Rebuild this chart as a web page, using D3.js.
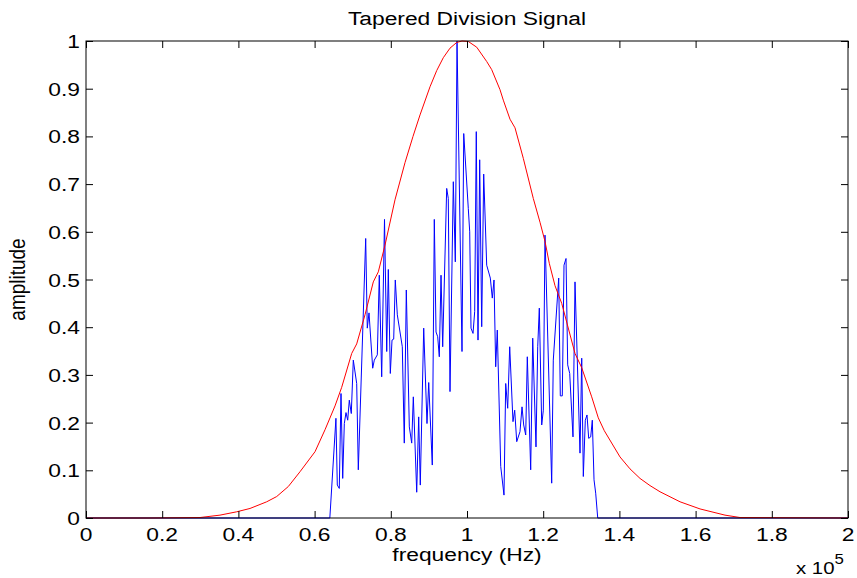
<!DOCTYPE html>
<html>
<head>
<meta charset="utf-8">
<script src="https://cdn.jsdelivr.net/npm/d3@7"></script>
<style>
  body { margin: 0; background: #fff; }
  text { font-family: "Liberation Sans", Arial, sans-serif; fill: #000; }
</style>
</head>
<body>
<svg id="chart" width="857" height="578"></svg>
<script>
// blue: division signal (frequency in Hz, amplitude)
const sigFreq = [0, 64000, 65600, 65960, 66480, 66930, 67380, 67800, 68240, 68690, 69110, 69630,
  70160, 71050, 71470, 73410, 73830, 74280, 75250, 75670, 76460, 76980, 77610, 78350, 78930,
  79350, 79870, 80320, 80760, 81180, 81710, 83020, 83540, 84070, 84860, 85490, 85910, 86800,
  87320, 87740, 88640, 89500, 89950, 90890, 91420, 91870, 92310, 92730, 93180, 93620, 94670,
  95090, 95540, 96410, 96930, 97380, 98690, 99140, 100340, 100710, 101050, 101580, 102020,
  102440, 102890, 103330, 103860, 104380, 105170, 106120, 106640, 107090, 107530, 107950,
  108850, 109710, 110160, 110680, 111210, 112070, 112520, 113050, 113910, 114440, 114880,
  115410, 115830, 116720, 117250, 118110, 118560, 118980, 119610, 120030, 120470, 122230,
  122650, 124070, 124490, 125010, 125460, 125990, 126430, 126960, 127820, 128350, 129660,
  130110, 130530, 131050, 131500, 131940, 132470, 132890, 133340, 133780, 134310, 200000];
const sigAmp = [0, 0, 0.209, 0.069, 0.062, 0.261, 0.083, 0.198, 0.221, 0.205, 0.247, 0.219,
  0.331, 0.282, 0.101, 0.586, 0.398, 0.43, 0.314, 0.331, 0.342, 0.509, 0.296, 0.626, 0.349,
  0.521, 0.303, 0.373, 0.375, 0.499, 0.426, 0.359, 0.157, 0.478, 0.191, 0.157, 0.254, 0.054,
  0.212, 0.069, 0.398, 0.198, 0.284, 0.111, 0.626, 0.39, 0.38, 0.338, 0.509, 0.359, 0.691,
  0.67, 0.265, 0.705, 0.537, 1.0, 0.349, 0.806, 0.649, 0.6, 0.398, 0.387, 0.433,
  0.81, 0.373, 0.751, 0.401, 0.721, 0.53, 0.503, 0.461, 0.499, 0.317, 0.394,
  0.108, 0.048, 0.282, 0.23, 0.359, 0.202, 0.226, 0.16, 0.181, 0.233, 0.195,
  0.174, 0.338, 0.101, 0.377, 0.149, 0.359, 0.44, 0.195, 0.226, 0.593, 0.073,
  0.331, 0.503, 0.256, 0.256, 0.53, 0.544, 0.321, 0.303, 0.17, 0.495, 0.136,
  0.335, 0.087, 0.205, 0.216, 0.167, 0.17, 0.205, 0.08, 0.052, 0, 0];

// red: taper window
const taperFreq = [0, 16800, 29920, 35170, 39550, 43050, 47430, 50050, 53100, 56170, 60110,
  62730, 65360, 67110, 69740, 71050, 73230, 75410, 76720, 78480, 81100, 83730, 85830, 87670,
  90290, 92050, 93780, 95540, 97300, 98690, 100340, 102550, 105170, 106480, 108660, 109530,
  111290, 112600, 114780, 117400, 119160, 120470, 121600, 123100, 124860, 128350, 130110,
  132730, 134460, 136040, 140160, 142780, 145410, 148030, 150660, 155910, 161160, 167720,
  171660, 200000];
const taperAmp = [0, 0, 0.001, 0.006, 0.013, 0.02, 0.034, 0.045, 0.066, 0.097, 0.139,
  0.185, 0.235, 0.274, 0.345, 0.365, 0.426, 0.495, 0.516, 0.572, 0.667, 0.745, 0.8, 0.845,
  0.904, 0.938, 0.965, 0.985, 0.997, 1.0, 0.999, 0.987, 0.957, 0.94, 0.898, 0.876,
  0.836, 0.818, 0.754, 0.67, 0.62, 0.58, 0.534, 0.487, 0.45, 0.345, 0.315,
  0.254, 0.21, 0.183, 0.128, 0.103, 0.083, 0.068, 0.055, 0.034, 0.019, 0.006,
  0.001, 0];

const xTicks = [0, 20000, 40000, 60000, 80000, 100000, 120000, 140000, 160000, 180000, 200000];
const yTicks = [0, 0.1, 0.2, 0.3, 0.4, 0.5, 0.6, 0.7, 0.8, 0.9, 1];

const svg = d3.select("#chart");
const mLeft = 86, mRight = 848, mTop = 41, mBottom = 518;
const stretch = 1.2;   // text in the original is a little wide
const fs = 19;

const x = d3.scaleLinear().domain([0, 200000]).range([mLeft, mRight]);
const y = d3.scaleLinear().domain([0, 1]).range([mBottom, mTop]);

const fmtX = d => d3.format("~g")(+(d / 1e5).toFixed(1));
const fmtY = d => d3.format("~g")(d);

// lines
const line = d3.line().x(d => x(d[0])).y(d => y(d[1]));

svg.append("path")
  .datum(d3.zip(sigFreq, sigAmp))
  .attr("fill", "none")
  .attr("stroke", "#0000ff")
  .attr("stroke-width", 1)
  .attr("d", line);

svg.append("path")
  .datum(d3.zip(taperFreq, taperAmp))
  .attr("fill", "none")
  .attr("stroke", "#ff0000")
  .attr("stroke-width", 1)
  .attr("d", line);

// axes: ticks pointing inward on all four sides, labels drawn below
const noText = g => {
  g.select(".domain").remove();
  g.selectAll("line").attr("stroke", "#000");
  g.selectAll("text").remove();
};

svg.append("g").attr("transform", `translate(0,${mBottom})`)
  .call(d3.axisBottom(x).tickValues(xTicks).tickSizeInner(-7)).call(noText);
svg.append("g").attr("transform", `translate(0,${mTop})`)
  .call(d3.axisTop(x).tickValues(xTicks).tickSizeInner(-7)).call(noText);
svg.append("g").attr("transform", `translate(${mLeft},0)`)
  .call(d3.axisLeft(y).tickValues(yTicks).tickSizeInner(-7)).call(noText);
svg.append("g").attr("transform", `translate(${mRight},0)`)
  .call(d3.axisRight(y).tickValues(yTicks).tickSizeInner(-7)).call(noText);

svg.append("rect")
  .attr("x", mLeft).attr("y", mTop)
  .attr("width", mRight - mLeft).attr("height", mBottom - mTop)
  .attr("fill", "none").attr("stroke", "#000").attr("stroke-width", 1);

// wide text helper
function label(px, py, str, anchor, size, rot) {
  return svg.append("text")
    .attr("transform", `translate(${px},${py}) scale(${stretch},1)` + (rot ? ` rotate(${rot})` : ""))
    .attr("text-anchor", anchor)
    .attr("font-size", size)
    .text(str);
}

xTicks.forEach(d => label(x(d), 541, fmtX(d), "middle", fs));
yTicks.forEach(d => label(mLeft - 6, y(d) + 7, fmtY(d), "end", fs));

label((mLeft + mRight) / 2, 25, "Tapered Division Signal", "middle", fs);
label((mLeft + mRight) / 2, 561, "frequency (Hz)", "middle", fs);
label(25, (mTop + mBottom) / 2, "amplitude", "middle", fs, -90);

const expo = label(796, 574, "x 10", "start", 17);
expo.append("tspan").attr("dy", -10).attr("font-size", 14).text("5");
</script>
</body>
</html>
